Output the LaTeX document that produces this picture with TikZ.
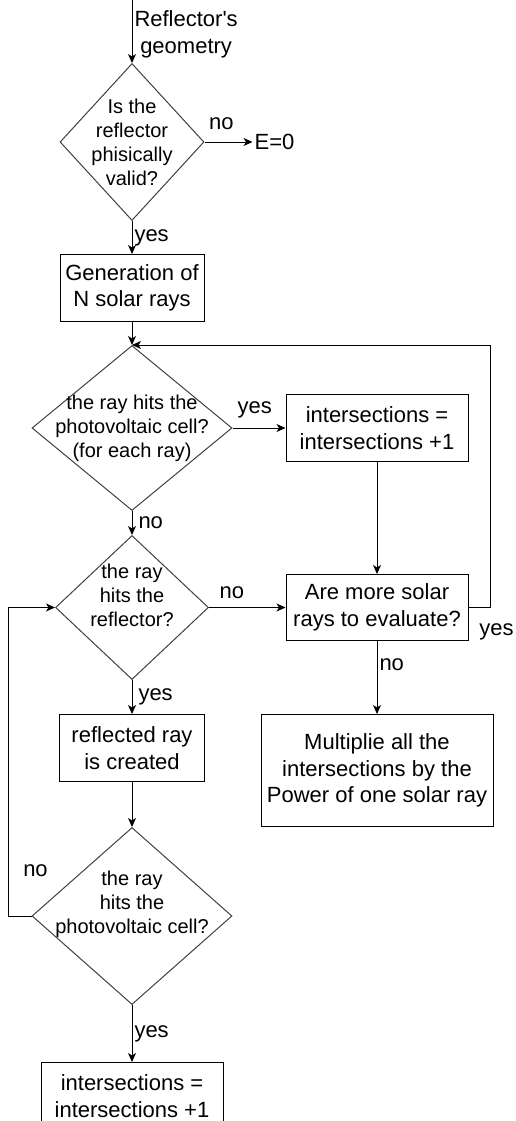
\documentclass[tikz,border=0pt]{standalone}
\usepackage{fontspec}
\setmainfont{Liberation Sans}
\usetikzlibrary{shapes.geometric, arrows.meta, positioning}
\tikzstyle{process} = [
    rectangle,
    minimum width=182pt,
    minimum height=67pt,
    inner sep=2pt,
    align=center,
    font=\fontsize{22}{26.4}\selectfont,
    draw=black,
    line width=1pt
]
\tikzstyle{decision} = [
    diamond,
    inner sep=0pt,
    draw=black!75,
    line width=1pt
]
\tikzstyle{question} = [
    align=center,
    inner sep=0pt,
    font=\fontsize{20}{24}\selectfont
]
\tikzstyle{edgetext} = [
    align=center,
    inner sep=2pt,
    font=\fontsize{22}{26.4}\selectfont
]
\tikzstyle{arrow} = [line width=1pt, -{Stealth[length=9pt, width=8pt, inset=2.5pt]}]

\begin{document}
\begin{tikzpicture}[x=1pt, y=-1pt]

\useasboundingbox (0,0) rectangle (515,1121);

\coordinate (in) at (132,0);

\node (valid) [decision, minimum width=144pt, minimum height=157pt, below=63pt of in,
    label={[question]center:{Is the\\reflector\\phisically\\valid?}}] {};

\node (zero) [edgetext, right=48pt of valid] {E=0};

\node (gen) [process, minimum width=144pt, below=33pt of valid]
{Generation of\\N solar rays};

\node (hitone) [decision, minimum width=200pt, minimum height=165pt, below=23pt of gen,
    label={[question]center:{the ray hits the\\photovoltaic cell?\\(for each ray)}}] {};

\node (addone) [process, right=53pt of hitone]
{intersections =\\intersections +1};

\node (reflect) [decision, minimum width=153pt, minimum height=144pt, below=24pt of hitone,
    label={[question, yshift=12pt]center:{the ray\\hits the\\reflector?}}] {};

\node (more) [process, minimum height=66pt, below=112pt of addone]
{Are more solar\\rays to evaluate?};

\node (mult) [process, minimum width=232pt, minimum height=112pt, below=73pt of more]
{Multiplie all the\\intersections by the\\Power of one solar ray};

\node (created) [process, minimum width=145pt, below=34pt of reflect]
{reflected ray\\is created};

\node (hittwo) [decision, minimum width=200pt, minimum height=177pt, below=45pt of created,
    label={[question, yshift=12pt]center:{the ray\\hits the\\photovoltaic cell?}}] {};

\node (addtwo) [process, below=57pt of hittwo]
{intersections =\\intersections +1};

\draw [arrow] (in) -- node[edgetext, right, yshift=-3pt] {Reflector\textquotesingle s\\geometry} (valid);
\draw [arrow] (valid) -- node[edgetext, above, pos=0.35, yshift=10pt] {no} (zero);
\draw [arrow] (valid) -- node[edgetext, right] {yes} (gen);
\draw [arrow] (gen) -- (hitone);

\draw [arrow] (hitone) -- node[edgetext, above, pos=0.42, yshift=7pt] {yes} (addone);
\draw [arrow] (hitone) -- node[edgetext, right, xshift=4pt] {no} (reflect);
\draw [arrow] (addone) -- (more);
\draw [arrow] (reflect) -- node[edgetext, above, pos=0.3, yshift=6pt] {no} (more);
\draw [arrow] (more.east) -- ++(22pt,0) node[edgetext, below, xshift=6pt, yshift=-14pt] {yes} |- (hitone.north);
\draw [arrow] (more) -- node[edgetext, right, yshift=13pt] {no} (mult);

\draw [arrow] (reflect) -- node[edgetext, right, xshift=4pt] {yes} (created);
\draw [arrow] (created) -- (hittwo);
\draw [arrow] (hittwo.west) -- node[edgetext, above, pos=0, xshift=4pt, yshift=37pt] {no} ++(-23pt,0) |- (reflect.west);
\draw [arrow] (hittwo) -- node[edgetext, right] {yes} (addtwo);

\end{tikzpicture}
\end{document}
